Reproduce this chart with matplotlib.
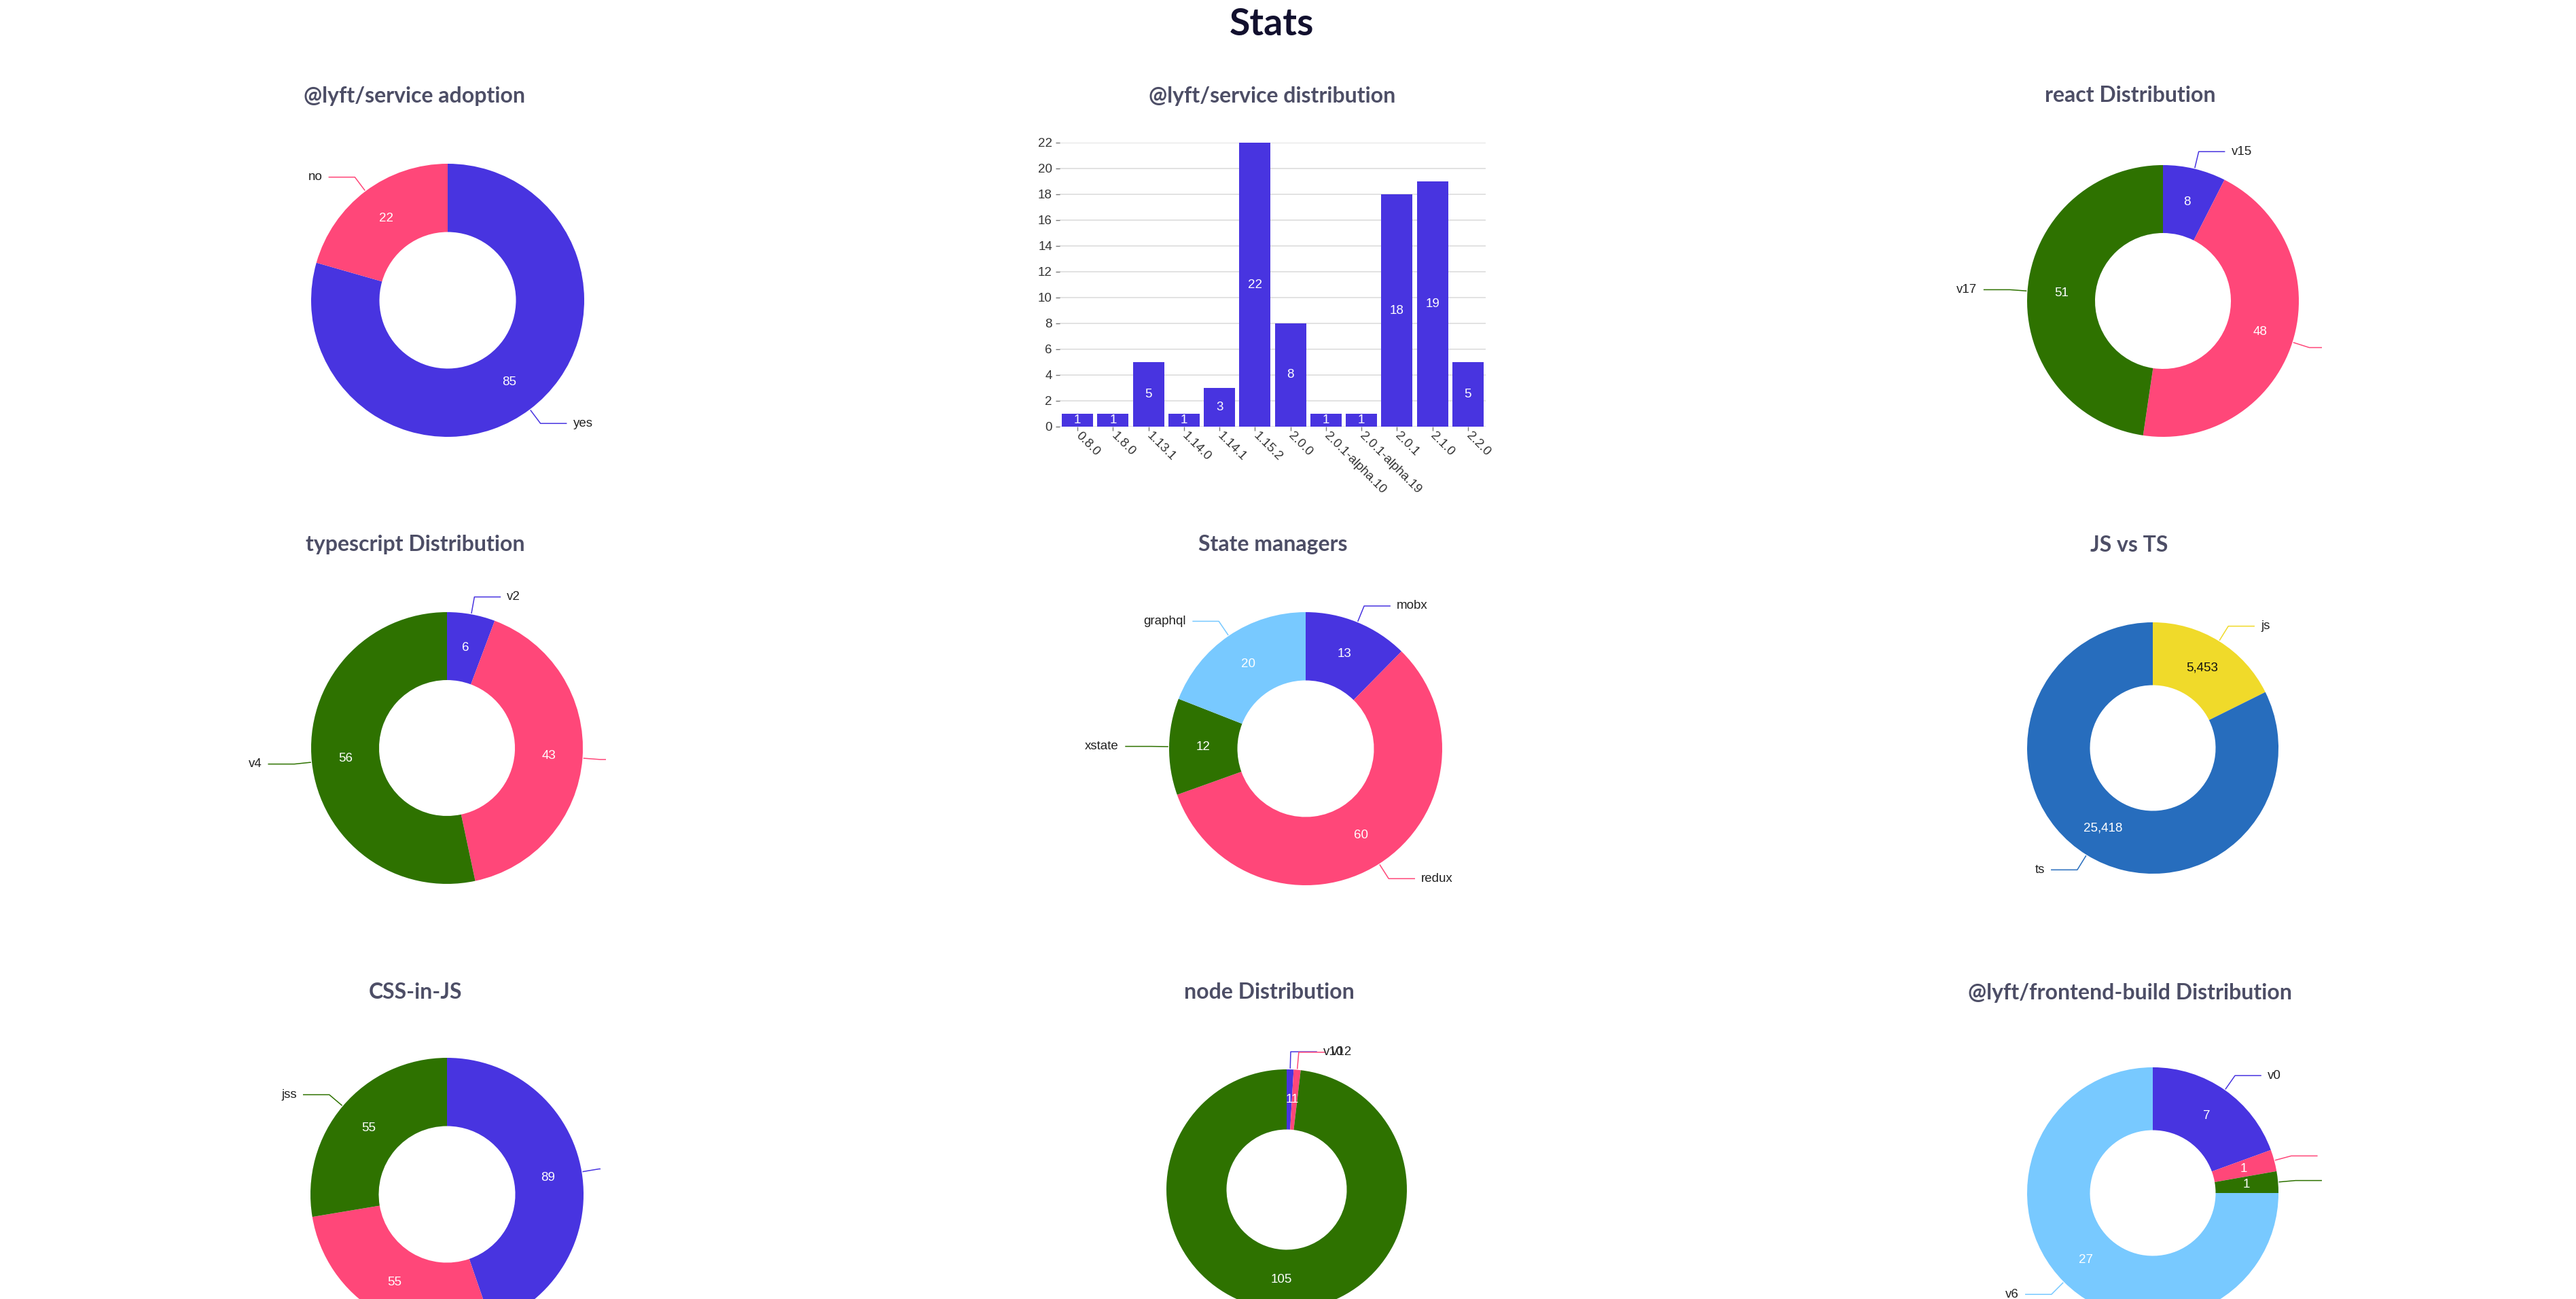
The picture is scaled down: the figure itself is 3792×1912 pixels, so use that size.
import matplotlib
matplotlib.use("Agg")
import matplotlib.pyplot as plt
import numpy as np

W, H = 3792, 1912

BLUE = "#4834e0"
PINK = "#ff4779"
GREEN = "#2e7200"
SKY = "#78c9ff"
YELLOW = "#f0da2a"
TSBLUE = "#276dbd"

# --- data ---
adoption_labels = ["yes", "no"]
adoption_values = [85, 22]

service_versions = ["0.8.0", "1.8.0", "1.13.1", "1.14.0", "1.14.1", "1.15.2",
                    "2.0.0", "2.0.1-alpha.10", "2.0.1-alpha.19", "2.0.1", "2.1.0", "2.2.0"]
service_counts = [1, 1, 5, 1, 3, 22, 8, 1, 1, 18, 19, 5]

react_labels = ["v15", "v16", "v17"]
react_values = [8, 48, 51]

ts_labels = ["v2", "v3", "v4"]
ts_values = [6, 43, 56]

state_labels = ["mobx", "redux", "xstate", "graphql"]
state_values = [13, 60, 12, 20]

lang_labels = ["js", "ts"]
lang_values = [5453, 25418]

css_labels = ["styled-components", "emotion", "jss"]
css_values = [89, 55, 55]

node_labels = ["v10", "v12", "v14"]
node_values = [1, 1, 105]

fb_labels = ["v0", "v4", "v5", "v6"]
fb_values = [7, 1, 1, 27]

TITLE_FONT = ["Lato", "DejaVu Sans"]
BODY_FONT = ["Liberation Sans", "DejaVu Sans"]
FS = 13.5

fig = plt.figure(figsize=(W / 100, H / 100), dpi=100)
fig.patch.set_facecolor("white")


def px_axes(left, top, right, bottom):
    return fig.add_axes([left / W, 1 - bottom / H, (right - left) / W, (bottom - top) / H])


def panel_title(x, y, text):
    fig.text(x / W, 1 - y / H, text, ha="center", va="center", fontsize=23,
             fontweight="bold", family=TITLE_FONT, color="#4d4e66")


# donut with arc labels and link labels, clipped on the right like the svg
def donut(cx, cy, r, labels, values, colors, clip=234, value_colors=None):
    ax = px_axes(cx - 420, cy - 270, cx + clip, cy + 270)
    ax.pie(values, colors=colors, radius=r, startangle=90, counterclock=False,
           wedgeprops=dict(width=r / 2, linewidth=0))
    ax.set_xlim(-420, clip)
    ax.set_ylim(-270, 270)
    ax.set_aspect("auto")
    ax.axis("off")
    if value_colors is None:
        value_colors = ["white"] * len(values)
    total = float(sum(values))
    start = 0
    for i, (lab, v) in enumerate(zip(labels, values)):
        mid = (start + v / 2) / total * 2 * np.pi
        start += v
        s, c = np.sin(mid), np.cos(mid)
        rm = r * 0.75
        ax.text(rm * s, rm * c, f"{v:,}", color=value_colors[i], ha="center", va="center",
                fontsize=FS, family=BODY_FONT, clip_on=True)
        x0, y0 = (r + 2) * s, (r + 2) * c
        x1, y1 = (r + 26) * s, (r + 26) * c
        side = 1 if s >= 0 else -1
        x2 = x1 + side * 38
        ax.plot([x0, x1, x2], [y0, y1, y1], color=colors[i], lw=1.1)
        ax.text(x2 + side * 10, y1, lab, ha="left" if side > 0 else "right", va="center",
                fontsize=FS, family=BODY_FONT, color="#222222", clip_on=True)
    return ax


fig.text(1872 / W, 1 - 36 / H, "Stats", ha="center", va="center", fontsize=40,
         fontweight="bold", family=TITLE_FONT, color="#12102e")

# row 1
panel_title(610, 141, "@lyft/service adoption")
donut(659, 442, 201, adoption_labels, adoption_values, [BLUE, PINK])

panel_title(1873, 141, "@lyft/service distribution")
ax = px_axes(1560, 210, 2187, 628)
x = np.arange(len(service_versions))
ax.bar(x, service_counts, width=0.88, color=BLUE, zorder=2)
ax.set_xlim(-0.5, len(service_versions) - 0.5)
ax.set_ylim(0, 22)
ax.set_yticks(range(0, 23, 2))
ax.grid(axis="y", color="#dddddd", lw=1.2, zorder=0)
ax.set_axisbelow(True)
for sp in ax.spines.values():
    sp.set_visible(False)
ax.tick_params(axis="both", length=4, width=1, color="#777777", labelsize=FS,
               labelcolor="#333333", pad=4)
ax.set_xticks(x)
ax.set_xticklabels(service_versions, rotation=-45, ha="left", va="center",
                   rotation_mode="anchor", family=BODY_FONT)
for lbl in ax.get_yticklabels():
    lbl.set_family(BODY_FONT)
for xi, v in zip(x, service_counts):
    ax.text(xi, v / 2, str(v), color="white", ha="center", va="center",
            fontsize=FS, family=BODY_FONT, zorder=3)

panel_title(3136, 141, "react Distribution")
donut(3184, 443, 200, react_labels, react_values, [BLUE, PINK, GREEN])

# row 2
panel_title(611, 802, "typescript Distribution")
donut(658, 1101, 200, ts_labels, ts_values, [BLUE, PINK, GREEN])

panel_title(1874, 802, "State managers")
donut(1922, 1102, 201, state_labels, state_values, [BLUE, PINK, GREEN, SKY])

panel_title(3134, 802, "JS vs TS")
donut(3169, 1101, 185, lang_labels, lang_values, [YELLOW, TSBLUE],
      value_colors=["#111111", "white"])

# row 3
panel_title(611, 1461, "CSS-in-JS")
donut(658, 1758, 201, css_labels, css_values, [BLUE, PINK, GREEN], clip=226)

panel_title(1868, 1461, "node Distribution")
donut(1894, 1751, 177, node_labels, node_values, [BLUE, PINK, GREEN])

panel_title(3135, 1461, "@lyft/frontend-build Distribution")
donut(3169, 1756, 185, fb_labels, fb_values, [BLUE, PINK, GREEN, SKY], clip=250)

fig.savefig("out.png", dpi=100, facecolor="white")
